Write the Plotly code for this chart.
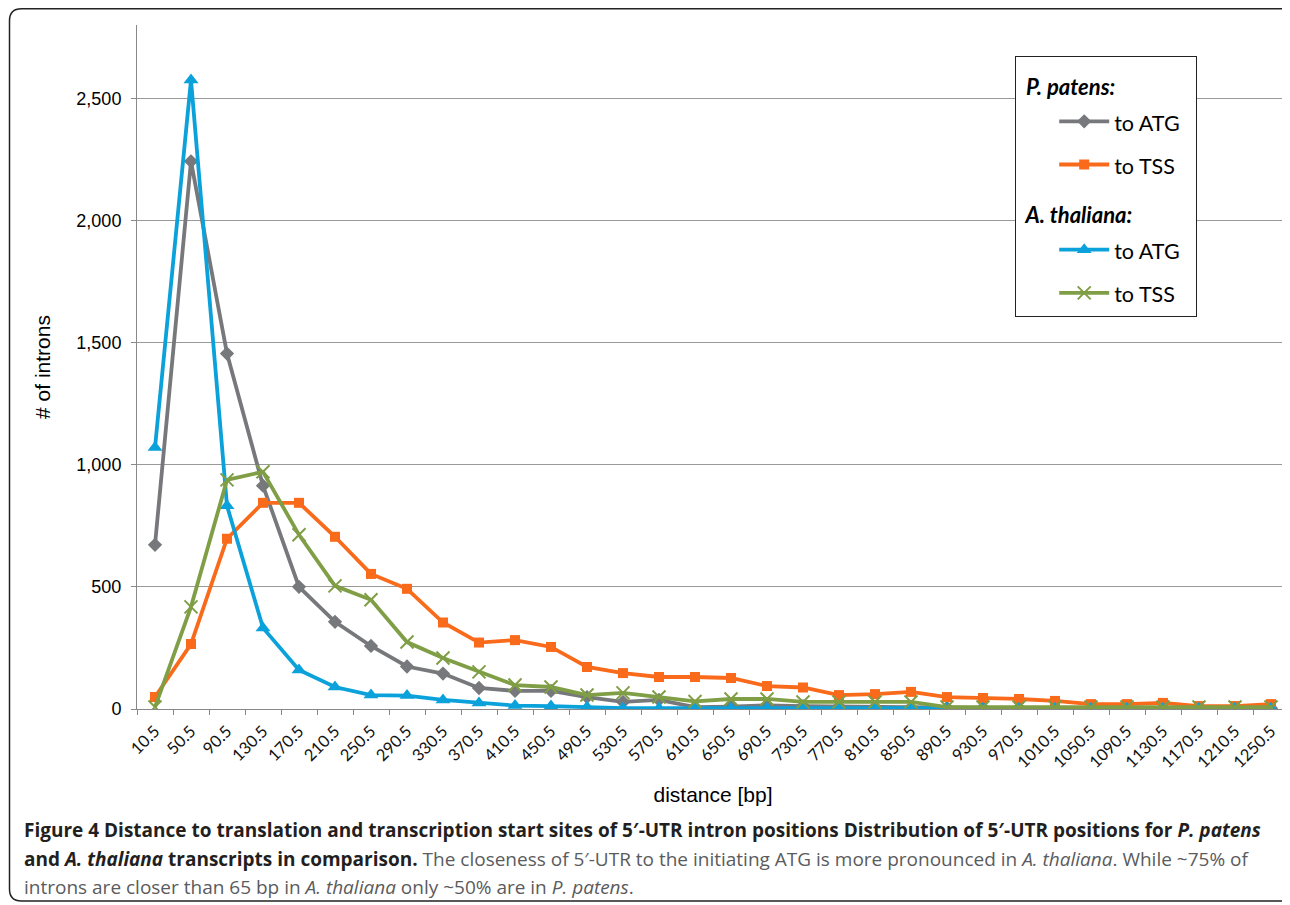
import plotly.graph_objects as go

distance = ["10.5", "50.5", "90.5", "130.5", "170.5", "210.5", "250.5", "290.5",
            "330.5", "370.5", "410.5", "450.5", "490.5", "530.5", "570.5", "610.5",
            "650.5", "690.5", "730.5", "770.5", "810.5", "850.5", "890.5", "930.5",
            "970.5", "1010.5", "1050.5", "1090.5", "1130.5", "1170.5", "1210.5", "1250.5"]

pp_atg = [672, 2242, 1455, 914, 500, 357, 258, 174, 145, 86, 74, 74, 49, 29, 37, 8,
          10, 15, 12, 10, 8, 6, 5, 5, 4, 4, 4, 3, 3, 3, 3, 3]
pp_tss = [49, 266, 697, 844, 844, 705, 553, 492, 354, 272, 282, 254, 172, 147, 131, 131,
          127, 94, 88, 57, 61, 70, 49, 45, 41, 33, 20, 20, 25, 12, 12, 20]
at_atg = [1070, 2575, 832, 332, 160, 90, 57, 55, 37, 25, 14, 12, 8, 3, 3, 3,
          3, 3, 3, 3, 3, 3, 3, 3, 3, 3, 3, 3, 3, 3, 3, 3]
at_tss = [8, 418, 938, 971, 713, 504, 447, 274, 209, 152, 98, 90, 57, 66, 49, 31,
          41, 41, 29, 29, 29, 29, 8, 8, 8, 8, 8, 8, 8, 8, 8, 8]

y_ticks = [0, 500, 1000, 1500, 2000, 2500]

GRAY = "#77787b"
ORANGE = "#f96a1b"
BLUE = "#0ba1da"
GREEN = "#7f9e45"

LEG_FAM = "Lato, Open Sans, sans-serif"

def item(label):
    return f"<span style='font-size:21.5px'>{label}\u00a0\u00a0</span>"

def gtitle(label):
    return f"<span style='font-size:22px'><b><i>\u00a0{label}</i></b></span>"

fig = go.Figure()
fig.add_trace(go.Scatter(
    x=distance, y=pp_atg, mode="lines+markers", name=item("to ATG"),
    line=dict(color=GRAY, width=3.8),
    marker=dict(symbol="diamond", size=11, color=GRAY),
    legendgroup="g1",
    legendgrouptitle=dict(text=gtitle("P. patens:"),
                          font=dict(family=LEG_FAM, size=30, color="#000")),
))
fig.add_trace(go.Scatter(
    x=distance, y=pp_tss, mode="lines+markers", name=item("to TSS"),
    line=dict(color=ORANGE, width=3.8),
    marker=dict(symbol="square", size=10, color=ORANGE),
    legendgroup="g2",
))
fig.add_trace(go.Scatter(
    x=distance, y=at_atg, mode="lines+markers", name=item("to ATG"),
    line=dict(color=BLUE, width=3.8),
    marker=dict(symbol="triangle-up", size=13, color=BLUE),
    legendgroup="g3",
    legendgrouptitle=dict(text=gtitle("A. thaliana:"),
                          font=dict(family=LEG_FAM, size=30, color="#000")),
))
fig.add_trace(go.Scatter(
    x=distance, y=at_tss, mode="lines+markers", name=item("to TSS"),
    line=dict(color=GREEN, width=3.8),
    marker=dict(symbol="x-thin", size=13, color=GREEN, line=dict(color=GREEN, width=2)),
    legendgroup="g4",
))

# page has an 8px body margin; figure sized to fit the 1290x905 window
OFF = 8
W, H = 1282, 897
L, T, R, B = 129, 17, 1, 196
pw, ph = W - L - R, H - T - B

def px(x):  # reference-window x -> paper
    return (x - OFF - L) / pw

def py(y):  # reference-window y -> paper
    return (H - B - (y - OFF)) / ph

# rounded frame around the figure
x0, x1, y0, y1 = px(9.5), px(1300), py(8.8), py(901)
rx, ry = 12 / pw, 12 / ph
frame = (f"M {x0+rx},{y0} L {x1-rx},{y0} Q {x1},{y0} {x1},{y0-ry} "
         f"L {x1},{y1+ry} Q {x1},{y1} {x1-rx},{y1} L {x0+rx},{y1} "
         f"Q {x0},{y1} {x0},{y1+ry} L {x0},{y0-ry} Q {x0},{y0} {x0+rx},{y0} Z")

fig.update_layout(
    width=W, height=H,
    margin=dict(l=L, r=R, t=T, b=B),
    paper_bgcolor="white", plot_bgcolor="white",
    font=dict(family="Liberation Sans, Arial, sans-serif", color="#000"),
    showlegend=True,
    legend=dict(
        x=px(1015), y=py(56), xanchor="left", yanchor="top",
        bgcolor="white", bordercolor="#222", borderwidth=1.2,
        font=dict(family=LEG_FAM, size=24, color="#000"),
        tracegroupgap=9, traceorder="grouped", itemwidth=50,
        indentation=38,
    ),
    xaxis=dict(
        type="category", tickson="boundaries", ticks="outside", ticklen=5,
        tickcolor="#888", showline=True, linecolor="#888", linewidth=1,
        showgrid=False, tickangle=-45, ticklabelstandoff=5,
        tickfont=dict(family="Lato, Open Sans, sans-serif", size=16.5, color="#111"),
        title=dict(text="distance [bp]", standoff=16,
                   font=dict(family="Liberation Sans, Arial, sans-serif", size=21)),
        range=[-0.5, len(distance) - 0.5],
    ),
    yaxis=dict(
        range=[0, 2800], tickvals=y_ticks, tickformat=",",
        ticks="outside", ticklen=5, tickcolor="#888", ticklabelstandoff=6,
        showline=True, linecolor="#888", linewidth=1,
        showgrid=True, gridcolor="#999", gridwidth=1,
        zeroline=False,
        tickfont=dict(family="Liberation Sans, Arial, sans-serif", size=18),
        title=dict(text="# of introns", standoff=20,
                   font=dict(family="Liberation Sans, Arial, sans-serif", size=21)),
    ),
    shapes=[dict(type="path", xref="paper", yref="paper", path=frame,
                 line=dict(color="#222", width=1.5), fillcolor="rgba(0,0,0,0)")],
)

cap_font = dict(family="Open Sans, Lato, sans-serif", size=19, color="#5a5b5d")
B1 = "<b style='color:#231f20'>"
lines = [
    (B1 + "Figure 4 Distance to translation and transcription start sites of 5′-UTR intron positions "
     "Distribution of 5′-UTR positions for <i>P. patens</i></b>", 830),
    (B1 + "and <i>A. thaliana</i> transcripts in comparison.</b> The closeness of 5′-UTR to the "
     "initiating ATG is more pronounced in <i>A. thaliana</i>. While ~75% of", 859),
    ("introns are closer than 65 bp in <i>A. thaliana</i> only ~50% are in <i>P. patens</i>.", 887),
]
for text, yy in lines:
    fig.add_annotation(text=text, xref="paper", yref="paper", x=px(22), y=py(yy),
                       xanchor="left", yanchor="middle", showarrow=False, font=cap_font)

fig.write_html("out.html")
